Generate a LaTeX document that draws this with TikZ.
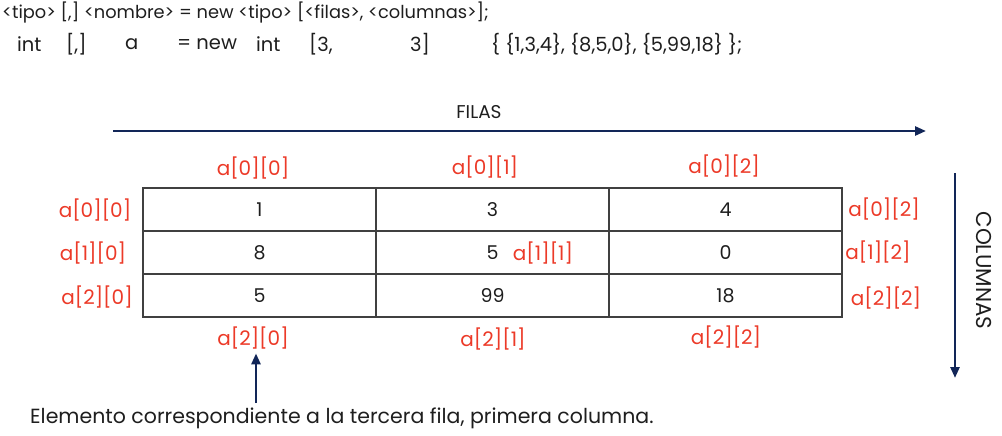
\documentclass[tikz,border=0pt]{standalone}
\usepackage{fontspec}
\setmainfont{Poppins}
\usetikzlibrary{positioning,arrows.meta}
\definecolor{rojo}{RGB}{236,58,40}
\definecolor{azul}{RGB}{18,38,88}
\definecolor{tinta}{RGB}{30,30,30}
\tikzset{
  celda/.style={draw=tinta!85, line width=1.4pt, outer sep=0pt, inner sep=0pt,
    minimum width=233pt, minimum height=43pt, text=tinta, font=\fontsize{19}{22}\selectfont},
  indice/.style={text=rojo, inner sep=0pt, font=\fontsize{20}{24}\selectfont},
  flecha/.style={draw=azul, line width=2.6pt, -{Triangle[length=11pt,width=9pt]}},
  codigo/.style={anchor=west, inner sep=0pt, text=tinta, font=\fontsize{17.8}{21}\selectfont},
  linea/.style={codigo, font=\fontsize{19.5}{23}\selectfont},
  rotulo/.style={inner sep=0pt, text=tinta, font=\fontsize{18.5}{22}\selectfont},
}
\begin{document}
\begin{tikzpicture}[x=1pt,y=-1pt]
\useasboundingbox (0,0) rectangle (1002,436);

\node[codigo] (sintaxis) at (2,13) {<tipo> [,] <nombre> = new <tipo> [<filas>, <columnas>];};
\node[linea] (tipo) at (17,44) {int};
\node[linea] (corchetes) at (66,44) {[,]};
\node[linea] (nombre) at (125,44) {a};
\node[linea] (nuevo) at (177,44) {= new};
\node[linea] (tipo2) at (256,44) {int};
\node[linea] (filas) at (309,44) {[3,};
\node[linea] (columnas) at (410,44) {3]};
\node[linea] (valores) at (491,44) {\{ \{1,3,4\}, \{8,5,0\}, \{5,99,18\} \};};

\node[rotulo] (tfilas) at (479,112) {FILAS};
\coordinate (fini) at (113,131);
\coordinate (ffin) at (926,131);
\draw[flecha] (fini) -- (ffin);

\node[rotulo, rotate=-90, font=\fontsize{21.5}{25}\selectfont] (tcolumnas) at (984,270.5) {COLUMNAS};
\coordinate (cini) at (955,173);
\coordinate (cfin) at (955,378);
\draw[flecha] (cini) -- (cfin);

\node[celda] (c00) at (259.5,209.5) {1};
\node[celda, right=0pt of c00] (c01) {3};
\node[celda, right=0pt of c01] (c02) {4};
\node[celda, below=0pt of c00] (c10) {8};
\node[celda, right=0pt of c10] (c11) {5};
\node[celda, right=0pt of c11] (c12) {0};
\node[celda, below=0pt of c10] (c20) {5};
\node[celda, right=0pt of c20] (c21) {99};
\node[celda, right=0pt of c21] (c22) {18};

\node[indice] (s00) at (253,168) {a[0][0]};
\node[indice] (s01) at (485,167) {a[0][1]};
\node[indice] (s02) at (724,166) {a[0][2]};
\node[indice] (i00) at (95,210) {a[0][0]};
\node[indice] (i10) at (93,253) {a[1][0]};
\node[indice] (i20) at (97,297) {a[2][0]};
\node[indice] (d02) at (884,209) {a[0][2]};
\node[indice] (d12) at (878,252) {a[1][2]};
\node[indice] (d22) at (886,298) {a[2][2]};
\node[indice] (b20) at (253,338) {a[2][0]};
\node[indice] (b21) at (493,339) {a[2][1]};
\node[indice] (b22) at (726,337) {a[2][2]};
\node[indice] (m11) at (543,253) {a[1][1]};

\node[codigo, font=\fontsize{20.5}{24}\selectfont] (nota) at (30,418) {Elemento correspondiente a la tercera fila, primera columna.};
\coordinate (base) at (256,403);
\draw[flecha] (base) -- (base |- b20.south) [shorten >=4pt];
\end{tikzpicture}
\end{document}
